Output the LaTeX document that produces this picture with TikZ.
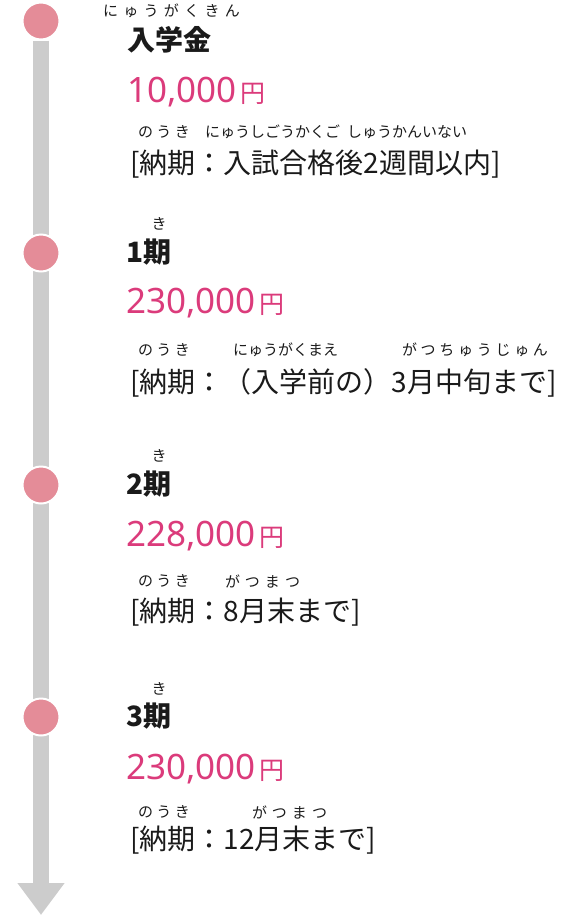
\documentclass[tikz,border=0pt]{standalone}
\usepackage{fontspec}
\usepackage{tikz}
\usetikzlibrary{arrows.meta}
\setmainfont{Noto Sans CJK JP}
\newfontfamily\numfont{Noto Sans}
\definecolor{barGray}{HTML}{CCCCCC}
\definecolor{dotPink}{HTML}{E48C98}
\definecolor{pricePink}{HTML}{DB3B7B}
\definecolor{inkBlack}{HTML}{1A1A1A}
\newcommand{\yen}{\kern4pt{\fontsize{25}{25}\selectfont\rmfamily 円}}
\ExplSyntaxOn
\NewDocumentCommand\rubyspread{mm}{\makebox[#1][s]{\tl_map_inline:nn{#2}{##1\hfill}\unskip}}
\ExplSyntaxOff

\begin{document}
\begin{tikzpicture}[x=1pt, y=-1pt, inner sep=0pt,
    dot/.style={circle, fill=dotPink, draw=white, line width=2pt, minimum size=37pt},
    bar/.style={barGray, line width=16pt, -{Triangle[width=45pt, length=32pt]}},
    title/.style={anchor=west, text=inkBlack, font=\fontsize{28}{28}\selectfont\bfseries},
    price/.style={anchor=base west, text=pricePink, font=\fontsize{35}{35}\selectfont\numfont},
    due/.style={anchor=west, text=inkBlack, font=\fontsize{28}{28}\selectfont},
    ruby/.style={text=inkBlack, font=\fontsize{15}{15}\selectfont}]
    \useasboundingbox (0,0) rectangle (570,916);

    % time line
    \node[dot] (c0) at (41,21) {};
    \coordinate (tip) at (41,915);
    \draw[bar] (c0) -- (tip);
    \node[dot] (c1) at (41,253) {};
    \node[dot] (c2) at (41,485) {};
    \node[dot] (c3) at (41,717) {};

    % entrance fee
    \node[ruby] (r0) at (171.5,11) {\rubyspread{137pt}{にゅうがくきん}};
    \node[title] (t0) at (127,40) {入学金};
    \node[price] (p0) at (127,102) {10,000\yen};
    \node[ruby] (n0a) at (164,132) {\rubyspread{52pt}{のうき}};
    \node[ruby] (n0b) at (272.5,132) {\rubyspread{135pt}{にゅうしごうかくご}};
    \node[ruby] (n0c) at (407,132) {\rubyspread{120pt}{しゅうかんいない}};
    \node[due] (d0) at (130,164) {[納期：入試合格後2週間以内]};

    % term 1
    \node[ruby] (r1) at (159,224) {き};
    \node[title] (t1) at (126,252) {1期};
    \node[price] (p1) at (126,313) {230,000\yen};
    \node[ruby] (n1a) at (164,350) {\rubyspread{52pt}{のうき}};
    \node[ruby] (n1b) at (280,350) {\rubyspread{94pt}{にゅうがくまえ}};
    \node[ruby] (n1c) at (475,350) {\rubyspread{146pt}{がつちゅうじゅん}};
    \node[due] (d1) at (130,383) {[納期：（入学前の）3月中旬まで]};

    % term 2
    \node[ruby] (r2) at (159,456) {き};
    \node[title] (t2) at (126,484) {2期};
    \node[price] (p2) at (126,546) {228,000\yen};
    \node[ruby] (n2a) at (164,581) {\rubyspread{52pt}{のうき}};
    \node[ruby] (n2b) at (262.5,581) {\rubyspread{75pt}{がつまつ}};
    \node[due] (d2) at (130,612) {[納期：8月末まで]};

    % term 3
    \node[ruby] (r3) at (159,689) {き};
    \node[title] (t3) at (126,716) {3期};
    \node[price] (p3) at (126,779) {230,000\yen};
    \node[ruby] (n3a) at (164,812) {\rubyspread{52pt}{のうき}};
    \node[ruby] (n3b) at (289.5,812) {\rubyspread{75pt}{がつまつ}};
    \node[due] (d3) at (130,840) {[納期：12月末まで]};
\end{tikzpicture}
\end{document}
